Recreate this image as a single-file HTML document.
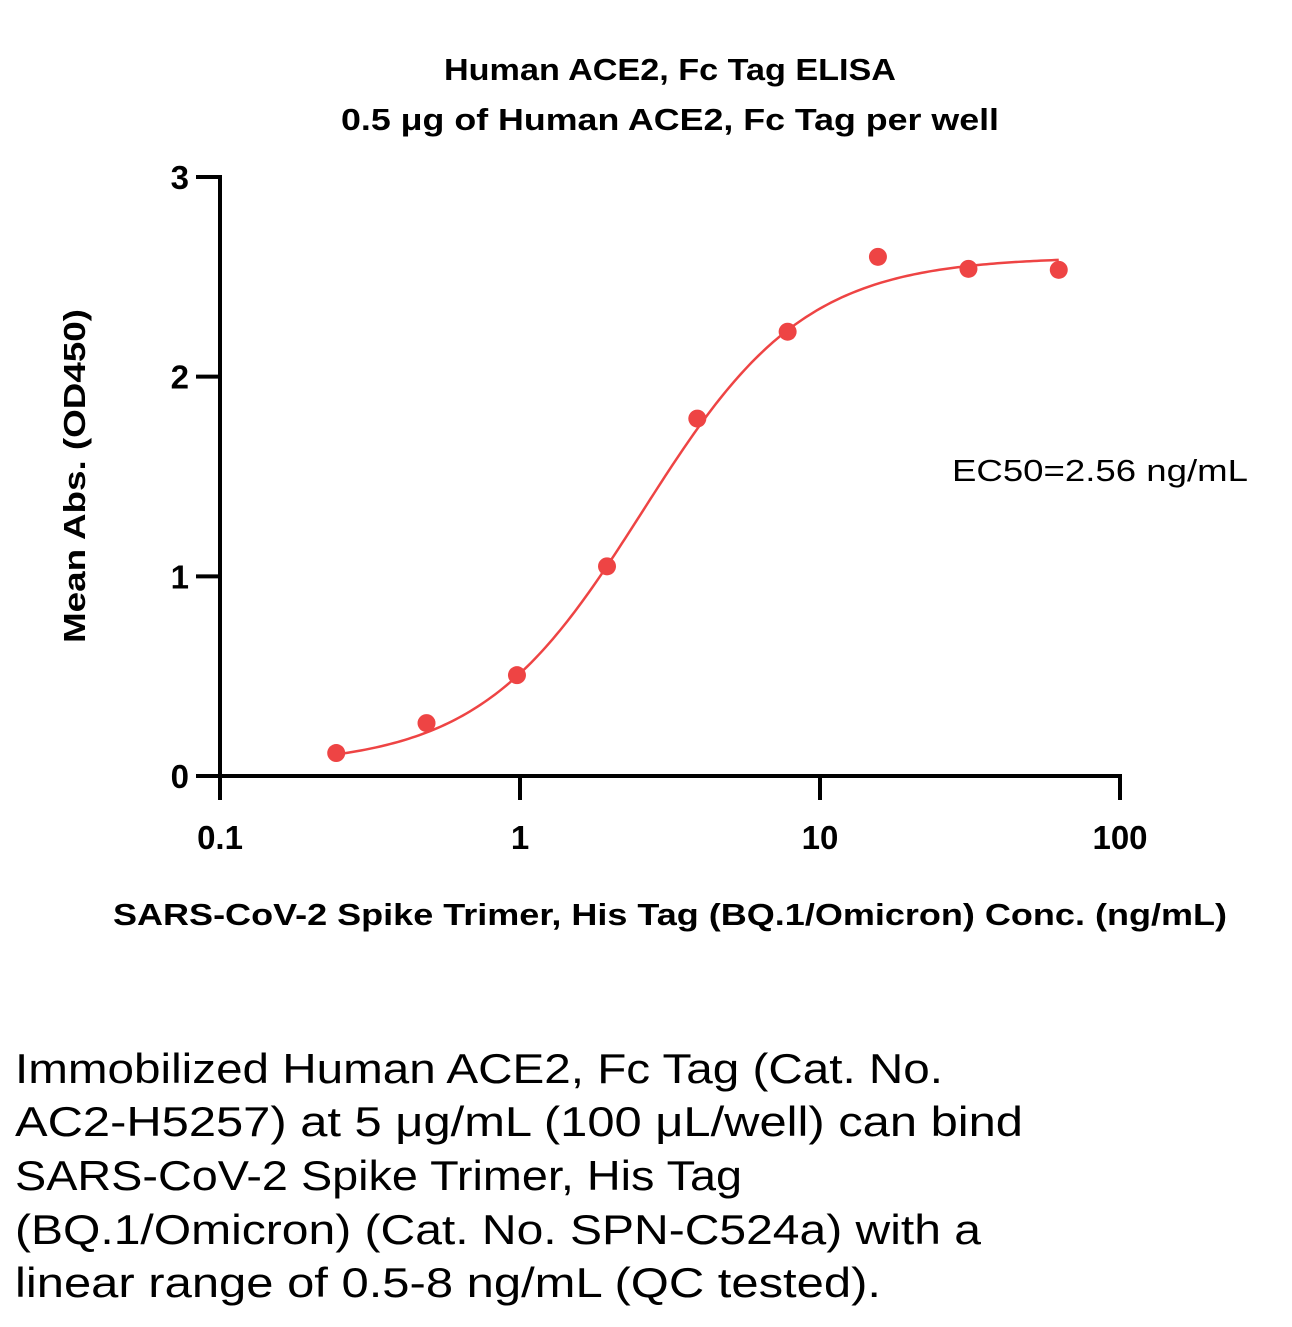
<!DOCTYPE html>
<html><head><meta charset="utf-8"><style>
html,body{margin:0;padding:0;background:#fff;}
svg text{font-family:"Liberation Sans",sans-serif;fill:#000;}
</style></head><body>
<svg id="chart" width="1292" height="1322" viewBox="0 0 1292 1322" xmlns="http://www.w3.org/2000/svg">
<text x="670" y="80" font-size="31" font-weight="bold" text-anchor="middle" textLength="452" lengthAdjust="spacingAndGlyphs">Human ACE2, Fc Tag ELISA</text>
<text x="670" y="130" font-size="31" font-weight="bold" text-anchor="middle" textLength="658" lengthAdjust="spacingAndGlyphs">0.5 μg of Human ACE2, Fc Tag per well</text>
<g id="axes"></g>
<g id="marks"></g>
<text transform="translate(85,476) rotate(-90)" font-size="31" font-weight="bold" text-anchor="middle" textLength="334" lengthAdjust="spacingAndGlyphs">Mean Abs. (OD450)</text>
<text x="670" y="925" font-size="31" font-weight="bold" text-anchor="middle" textLength="1114" lengthAdjust="spacingAndGlyphs">SARS-CoV-2 Spike Trimer, His Tag (BQ.1/Omicron) Conc. (ng/mL)</text>
<text x="952" y="481" font-size="31" textLength="296" lengthAdjust="spacingAndGlyphs">EC50=2.56 ng/mL</text>
<g font-size="42">
<text x="15" y="1083" textLength="928" lengthAdjust="spacingAndGlyphs">Immobilized Human ACE2, Fc Tag (Cat. No.</text>
<text x="15" y="1136" textLength="1008" lengthAdjust="spacingAndGlyphs">AC2-H5257) at 5 μg/mL (100 μL/well) can bind</text>
<text x="15" y="1190" textLength="727" lengthAdjust="spacingAndGlyphs">SARS-CoV-2 Spike Trimer, His Tag</text>
<text x="15" y="1244" textLength="966" lengthAdjust="spacingAndGlyphs">(BQ.1/Omicron) (Cat. No. SPN-C524a) with a</text>
<text x="15" y="1297" textLength="866" lengthAdjust="spacingAndGlyphs">linear range of 0.5-8 ng/mL (QC tested).</text>
</g>
</svg>
<script>
const concentrations = [0.244, 0.488, 0.977, 1.95, 3.9, 7.8, 15.6, 31.25, 62.5];
const absorbance = [0.115, 0.265, 0.505, 1.05, 1.79, 2.225, 2.6, 2.54, 2.535];
const fitParams = [0.05, 2.6, 2.56, 1.6]; // bottom, top, EC50, hill
const xTicks = [0.1, 1, 10, 100];
const xTickLabels = ["0.1", "1", "10", "100"];
const yTicks = [0, 1, 2, 3];
const yTickLabels = ["0", "1", "2", "3"];

const NS = "http://www.w3.org/2000/svg";
const X0 = 220, X1 = 1120, Y0 = 776, Y1 = 177;
function xs(v){ return X0 + (Math.log10(v) + 1) / 3 * (X1 - X0); }
function ys(v){ return Y0 - v / 3 * (Y0 - Y1); }
function mk(tag, attrs, parent){ const e = document.createElementNS(NS, tag); for (const k in attrs) e.setAttribute(k, attrs[k]); parent.appendChild(e); return e; }
const axesG = document.getElementById('axes');
const marksG = document.getElementById('marks');

let ax = mk('line', {x1: X0, y1: Y0, x2: X1 + 2, y2: Y0, stroke: '#000', 'stroke-width': 4}, axesG);


ax = mk('line', {x1: X0, y1: Y0 + 2, x2: X0, y2: Y1 - 2, stroke: '#000', 'stroke-width': 4}, axesG);



xTicks.forEach((t, i) => {
  const x = xs(t);
  const l = mk('line', {x1: x, y1: Y0, x2: x, y2: Y0 + 24, stroke: '#000', 'stroke-width': 4}, axesG);
  
  
  const tx = mk('text', {x: x, y: Y0 + 73, 'font-size': 33, 'font-weight': 'bold', 'text-anchor': 'middle'}, axesG);
  tx.textContent = xTickLabels[i];
  
  
});
yTicks.forEach((t, i) => {
  const y = ys(t);
  const l = mk('line', {x1: X0 - 24, y1: y, x2: X0, y2: y, stroke: '#000', 'stroke-width': 4}, axesG);
  
  
  const tx = mk('text', {x: X0 - 31, y: y + 12, 'font-size': 33, 'font-weight': 'bold', 'text-anchor': 'end'}, axesG);
  tx.textContent = yTickLabels[i];
  
  
});

const fitBottom = fitParams[0], fitTop = fitParams[1], fitEC50 = fitParams[2], fitHill = fitParams[3];
let pathD = '';
const logLo = Math.log10(concentrations[0]), logHi = Math.log10(concentrations[concentrations.length - 1]);
for (let i = 0; i <= 200; i++) {
  const lx = logLo + (logHi - logLo) * i / 200, c = Math.pow(10, lx);
  const v = fitBottom + (fitTop - fitBottom) / (1 + Math.pow(fitEC50 / c, fitHill));
  pathD += (i ? 'L' : 'M') + xs(c).toFixed(2) + ',' + ys(v).toFixed(2);
}
const fitCurve = mk('path', {d: pathD, fill: 'none', stroke: '#ee4444', 'stroke-width': 2.5}, marksG);



concentrations.forEach((c, i) => {
  const p = mk('circle', {cx: xs(c), cy: ys(absorbance[i]), r: 9, fill: '#ee4444'}, marksG);
  
  
});
</script>
</body></html>
